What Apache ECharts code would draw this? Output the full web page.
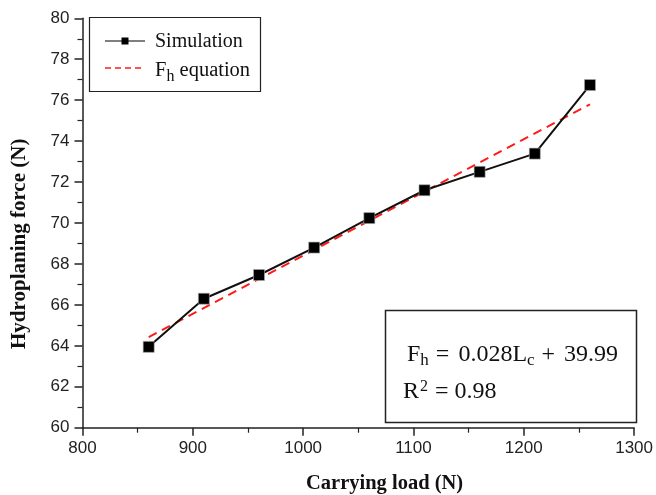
<!DOCTYPE html>
<html>
<head>
<meta charset="utf-8">
<script src="https://cdn.jsdelivr.net/npm/echarts@6/dist/echarts.min.js"></script>
<style>
  html, body { margin: 0; padding: 0; background: #fff; }
  #chart { width: 656px; height: 495px; }
</style>
</head>
<body>
<div id="chart"></div>
<script>
// Carrying load (N) for each simulated case
const loads = [860, 910, 960, 1010, 1060, 1110, 1160, 1210, 1260];
// Simulated hydroplaning force (N)
const simForce = [63.95, 66.30, 67.46, 68.80, 70.24, 71.60, 72.50, 73.39, 76.74];
// Linear fit F_h = 0.028 L_c + 39.99, evaluated at the ends of the load range
const fitLoads = [860, 1260];
const fitForce = [64.43, 75.80];
// Axis ticks
const xTicks = [800, 900, 1000, 1100, 1200, 1300];
const yTicks = [60, 62, 64, 66, 68, 70, 72, 74, 76, 78, 80];

const SERIF = '"Liberation Serif", "Times New Roman", serif';
const SANS = '"Liberation Sans", Arial, sans-serif';
const INK = '#111';

const chart = echarts.init(document.getElementById('chart'), null, { renderer: 'canvas' });

const axisCommon = {
  axisLine: { show: true, lineStyle: { color: '#222', width: 1.5 } },
  axisTick: { show: true, inside: false, length: 8, lineStyle: { color: '#222', width: 1.5 } },
  minorTick: { show: true, splitNumber: 2, length: 5, lineStyle: { color: '#222', width: 1.2 } },
  splitLine: { show: false },
  axisLabel: { color: '#222', fontFamily: SANS, fontSize: 17, formatter: v => String(v) }
};

// Hand-built legend: framed box with a line sample per series
const legendX = 89.5, legendY = 17.5;
const legendGraphics = [
  {
    type: 'rect',
    shape: { x: legendX, y: legendY, width: 171, height: 74 },
    style: { fill: '#fff', stroke: '#222', lineWidth: 1.2 },
    z: 10
  },
  {
    type: 'line',
    shape: { x1: 105, y1: 41, x2: 145, y2: 41 },
    style: { stroke: '#555', lineWidth: 1.5 },
    z: 11
  },
  {
    type: 'rect',
    shape: { x: 121.5, y: 37.5, width: 7, height: 7 },
    style: { fill: '#000' },
    z: 12
  },
  {
    type: 'text',
    x: 155, y: 42, z: 11,
    style: { text: 'Simulation', font: '20px ' + SERIF, fill: INK, verticalAlign: 'middle' }
  },
  {
    type: 'line',
    shape: { x1: 105, y1: 68, x2: 145, y2: 68 },
    style: { stroke: '#ff1a1a', lineWidth: 1.5, lineDash: [6, 4] },
    z: 11
  },
  {
    type: 'text',
    x: 155, y: 54, z: 11,
    style: {
      text: '{t|F}{s|h}{t| equation}',
      rich: {
        t: { fontFamily: SERIF, fontSize: 20.5, fill: INK, height: 22 },
        s: { fontFamily: SERIF, fontSize: 16, fill: INK, height: 22, padding: [12, 0, 0, 0] }
      }
    }
  }
];

// Regression box with the fitted equation and R²
const eqGraphics = [
  {
    type: 'rect',
    shape: { x: 385.5, y: 310.5, width: 251, height: 112 },
    style: { fill: '#fff', stroke: '#222', lineWidth: 1.5 },
    z: 10
  },
  {
    type: 'text',
    x: 407, y: 336, z: 11,
    style: {
      text: '{t|F}{s|h}{o|=}{t|0.028L}{s|c}{o|+}{t|39.99}',
      rich: {
        t: { fontFamily: SERIF, fontSize: 24, fill: INK, height: 26 },
        o: { fontFamily: SERIF, fontSize: 24, fill: INK, height: 26, padding: [0, 9, 0, 7] },
        s: { fontFamily: SERIF, fontSize: 17, fill: INK, height: 26, padding: [12, 0, 0, 0] }
      }
    }
  },
  {
    type: 'text',
    x: 403, y: 374, z: 11,
    style: {
      text: '{t|R}{p|2}{o|=}{t|0.98}',
      rich: {
        t: { fontFamily: SERIF, fontSize: 24, fill: INK, height: 26 },
        o: { fontFamily: SERIF, fontSize: 24, fill: INK, height: 26, padding: [0, 6, 0, 6] },
        p: { fontFamily: SERIF, fontSize: 16, fill: INK, height: 26, padding: [0, 1, 10, 1] }
      }
    }
  }
];

chart.setOption({
  animation: false,
  backgroundColor: '#fff',
  grid: { left: 82.5, right: 20, top: 18.3, bottom: 67.3, containLabel: false },
  xAxis: Object.assign({}, axisCommon, {
    type: 'value',
    min: xTicks[0],
    max: xTicks[xTicks.length - 1],
    interval: xTicks[1] - xTicks[0],
    axisLabel: Object.assign({}, axisCommon.axisLabel, { margin: 12 })
  }),
  yAxis: Object.assign({}, axisCommon, {
    type: 'value',
    min: yTicks[0],
    max: yTicks[yTicks.length - 1],
    interval: yTicks[1] - yTicks[0],
    axisLabel: Object.assign({}, axisCommon.axisLabel, { margin: 13 })
  }),
  series: [
    {
      name: 'Fh equation',
      type: 'line',
      data: fitLoads.map((x, i) => [x, fitForce[i]]),
      symbol: 'none',
      lineStyle: { color: '#ff1a1a', width: 2, type: [9, 6] },
      z: 2
    },
    {
      name: 'Simulation',
      type: 'line',
      data: loads.map((x, i) => [x, simForce[i]]),
      symbol: 'rect',
      symbolSize: 11,
      lineStyle: { color: '#111', width: 2 },
      itemStyle: { color: '#000', borderColor: '#aaa', borderWidth: 0.6 },
      z: 3
    }
  ],
  graphic: [
    {
      type: 'text',
      left: 306, top: 473,
      style: { text: 'Carrying load (N)', font: 'bold 20.5px ' + SERIF, fill: INK }
    },
    {
      type: 'text',
      x: 9, y: 349,
      rotation: Math.PI / 2,
      style: { text: 'Hydroplaning force (N)', font: 'bold 21px ' + SERIF, fill: INK }
    }
  ].concat(legendGraphics, eqGraphics)
});
</script>
</body>
</html>
